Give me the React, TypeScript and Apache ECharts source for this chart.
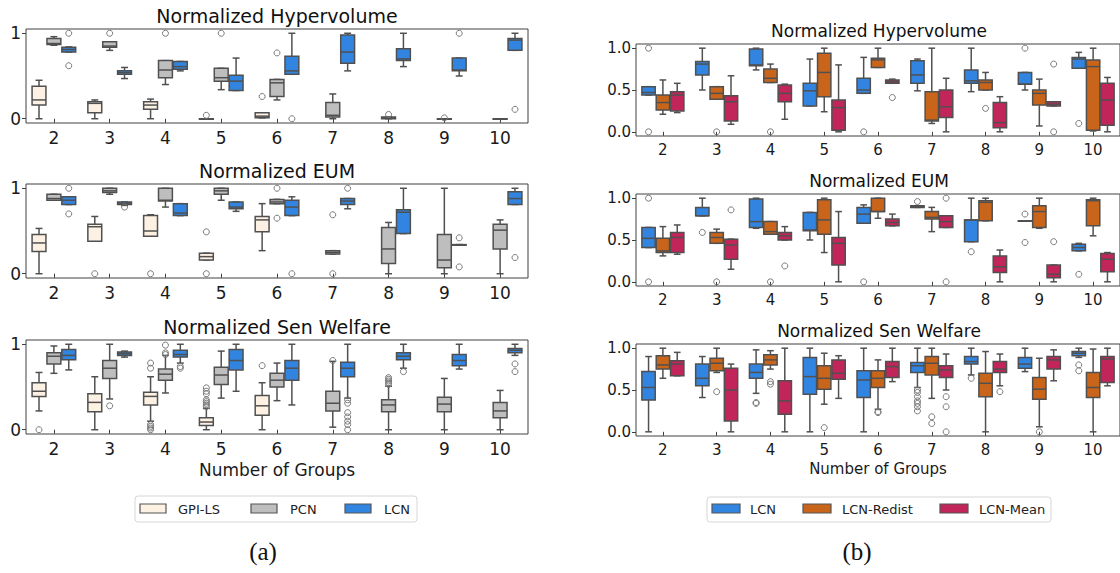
import React, { useEffect, useRef } from 'react';
import * as echarts from 'echarts';

// ---------------- data ----------------
const categories = ['2', '3', '4', '5', '6', '7', '8', '9', '10'];
const yTicksLeft = [0, 1];
const yTicksRight = [0, 0.5, 1];
const leftMethods = ['GPI-LS', 'PCN', 'LCN'];
const rightMethods = ['LCN', 'LCN-Redist', 'LCN-Mean'];
const titles = ['Normalized Hypervolume', 'Normalized EUM', 'Normalized Sen Welfare'];
const xTitle = 'Number of Groups';
const captions = ['(a)', '(b)'];

// box stats: [low whisker, q1, median, q3, high whisker] per category (null = none)
// ---- (a) Hypervolume
const hvGpi = [[0, 0.16, 0.22, 0.38, 0.45], [0, 0.07, 0.18, 0.2, 0.22], [0, 0.11, 0.16, 0.2, 0.23], [0, 0, 0, 0, 0], [0.01, 0.01, 0.03, 0.07, 0.07], null, null, null, null];
const hvGpiOut = [[3, 0.04], [4, 0.26]];
const hvPcn = [[0.86, 0.87, 0.88, 0.94, 0.96], [0.8, 0.835, 0.85, 0.9, 0.9], [0.4, 0.48, 0.57, 0.68, 0.68], [0.34, 0.44, 0.48, 0.59, 0.59], [0.22, 0.26, 0.42, 0.46, 0.46], [0, 0.02, 0.04, 0.19, 0.29], [0, 0, 0.01, 0.02, 0.02], [0, 0, 0, 0, 0], [0, 0, 0, 0, 0]];
const hvPcnOut = [[1, 1.0], [2, 1.0], [3, 1.0], [4, 0.77], [6, 0.05], [7, 0.01]];
const hvLcn = [[0.78, 0.78, 0.81, 0.835, 0.84], [0.47, 0.52, 0.54, 0.56, 0.6], [0.56, 0.58, 0.61, 0.67, 0.67], [0.33, 0.33, 0.44, 0.51, 0.71], [0.52, 0.52, 0.56, 0.73, 1.0], [0.56, 0.65, 0.78, 0.98, 1.0], [0.61, 0.68, 0.7, 0.82, 1.0], [0.5, 0.56, 0.57, 0.71, 0.71], [0.8, 0.8, 0.92, 0.94, 1.0]];
const hvLcnOut = [[0, 1.0], [0, 0.62], [4, 0.0], [7, 1.0], [8, 0.11]];
// ---- (a) EUM
const eumGpi = [[0, 0.26, 0.36, 0.46, 0.53], [0.38, 0.38, 0.55, 0.58, 0.67], [0.44, 0.44, 0.5, 0.68, 0.69], [0.16, 0.16, 0.2, 0.24, 0.24], [0.27, 0.49, 0.63, 0.67, 0.82], null, null, null, null];
const eumGpiOut = [[1, 0], [2, 0], [3, 0.49], [3, 0]];
const eumPcn = [[0.86, 0.86, 0.88, 0.93, 0.93], [0.93, 0.95, 0.97, 1.0, 1.0], [0.78, 0.85, 0.86, 1.0, 1.0], [0.86, 0.93, 0.97, 1.0, 1.0], [0.82, 0.82, 0.84, 0.87, 0.87], [0.23, 0.23, 0.25, 0.27, 0.27], [0, 0.12, 0.29, 0.54, 0.6], [0, 0.07, 0.16, 0.46, 1.0], [0, 0.29, 0.51, 0.58, 0.63]];
const eumPcnOut = [[4, 1.0], [4, 0.65], [5, 0.69], [5, 0]];
const eumLcn = [[0.81, 0.81, 0.86, 0.9, 0.9], [0.8, 0.81, 0.82, 0.84, 0.84], [0.68, 0.68, 0.71, 0.82, 0.82], [0.73, 0.76, 0.78, 0.84, 0.84], [0.68, 0.68, 0.78, 0.86, 0.9], [0.76, 0.81, 0.85, 0.88, 0.88], [0.47, 0.47, 0.72, 0.75, 1.0], [0.34, 0.34, 0.34, 0.34, 0.34], [0.81, 0.81, 0.88, 0.96, 1.0]];
const eumLcnOut = [[0, 1.0], [0, 0.7], [1, 0.78], [4, 0], [5, 1.0], [7, 0.42], [7, 0.08], [8, 0.19]];
// ---- (a) Sen Welfare
const senGpi = [[0.22, 0.39, 0.45, 0.55, 0.67], [0, 0.21, 0.32, 0.42, 0.62], [0.1, 0.29, 0.39, 0.44, 0.62], [0, 0.05, 0.09, 0.14, 0.25], [0, 0.17, 0.28, 0.4, 0.55], null, null, null, null];
const senGpiOut = [[0, 0], [2, 0.78], [2, 0.72], [2, 0.06], [2, 0.04], [2, 0.02], [2, 0.0], [3, 0.27], [3, 0.29], [3, 0.31], [3, 0.33], [3, 0.35], [3, 0.42], [3, 0.45], [3, 0.49], [4, 0.75]];
const senPcn = [[0.66, 0.77, 0.86, 0.9, 0.98], [0.36, 0.6, 0.72, 0.81, 1.0], [0.43, 0.58, 0.65, 0.71, 0.87], [0.37, 0.53, 0.64, 0.73, 0.92], [0.34, 0.5, 0.58, 0.66, 0.78], [0.03, 0.22, 0.31, 0.45, 0.8], [0, 0.21, 0.29, 0.35, 0.51], [0, 0.21, 0.3, 0.38, 0.6], [0, 0.14, 0.22, 0.32, 0.46]];
const senPcnOut = [[1, 0.28], [2, 0.88], [2, 0.9], [2, 0.99], [5, 0.81], [6, 0.53], [6, 0.55], [6, 0.57], [6, 0.59], [6, 0.61]];
const senLcn = [[0.7, 0.82, 0.87, 0.94, 1.0], [0.85, 0.87, 0.89, 0.91, 0.92], [0.78, 0.85, 0.88, 0.93, 1.0], [0.45, 0.7, 0.81, 0.94, 1.0], [0.29, 0.58, 0.72, 0.81, 1.0], [0.37, 0.62, 0.72, 0.79, 1.0], [0.72, 0.82, 0.86, 0.9, 1.0], [0.71, 0.75, 0.81, 0.88, 1.0], [0.87, 0.9, 0.93, 0.95, 1.0]];
const senLcnOut = [[2, 0.74], [2, 0.72], [5, 0.35], [5, 0.31], [5, 0.2], [5, 0.15], [5, 0.1], [5, 0.06], [5, 0.0], [6, 0.68], [8, 0.77], [8, 0.68]];
// ---- (b) Hypervolume
const rhvLcn = [[0.44, 0.44, 0.47, 0.54, 0.54], [0.5, 0.68, 0.81, 0.84, 1.0], [0.74, 0.79, 0.8, 0.99, 1.0], [0.31, 0.31, 0.49, 0.58, 0.87], [0.46, 0.46, 0.5, 0.64, 0.89], [0.49, 0.58, 0.68, 0.85, 0.87], [0.48, 0.58, 0.61, 0.74, 1.0], [0.5, 0.57, 0.57, 0.71, 0.71], [0.76, 0.76, 0.87, 0.89, 0.95]];
const rhvLcnOut = [[0, 1.0], [0, 0.0], [4, 0.0], [7, 1.0], [8, 0.1]];
const rhvRed = [[0.21, 0.26, 0.35, 0.44, 0.62], [0.39, 0.39, 0.46, 0.54, 0.54], [0.59, 0.59, 0.64, 0.75, 0.81], [0.24, 0.42, 0.71, 0.94, 1.0], [0.77, 0.77, 0.86, 0.88, 1.0], [0.1, 0.13, 0.14, 0.48, 1.0], [0.5, 0.5, 0.59, 0.62, 0.71], [0.07, 0.32, 0.46, 0.5, 0.63], [0.01, 0.02, 0.78, 0.86, 1.0]];
const rhvRedOut = [[1, 0], [2, 0], [6, 0.28]];
const rhvMean = [[0.23, 0.25, 0.44, 0.48, 0.58], [0.09, 0.13, 0.36, 0.43, 0.67], [0.15, 0.36, 0.46, 0.56, 0.57], [0, 0.02, 0.29, 0.38, 0.8], [0.58, 0.58, 0.6, 0.62, 0.63], [0, 0.17, 0.3, 0.5, 0.64], [0, 0.05, 0.11, 0.35, 0.42], [0.31, 0.31, 0.33, 0.36, 0.36], [0, 0.08, 0.38, 0.58, 0.65]];
const rhvMeanOut = [[4, 0.41], [7, 0.81], [7, 0.0]];
// ---- (b) EUM
const reumLcn = [[0.41, 0.41, 0.52, 0.65, 0.65], [0.79, 0.79, 0.79, 0.89, 1.0], [0.64, 0.65, 0.72, 0.99, 1.0], [0.5, 0.61, 0.62, 0.83, 0.83], [0.7, 0.7, 0.81, 0.89, 0.92], [0.89, 0.89, 0.9, 0.91, 0.91], [0.48, 0.48, 0.74, 0.74, 1.0], [0.73, 0.73, 0.73, 0.73, 0.73], [0.37, 0.37, 0.41, 0.45, 0.46]];
const reumLcnOut = [[0, 1.0], [0, 0], [1, 0.59], [4, 0], [5, 0.96], [6, 0.36], [7, 0.81], [7, 0.47], [8, 0.09]];
const reumRed = [[0.31, 0.35, 0.37, 0.52, 0.66], [0.46, 0.46, 0.53, 0.59, 0.63], [0.57, 0.57, 0.6, 0.72, 0.72], [0.35, 0.57, 0.74, 0.98, 1.0], [0.76, 0.84, 0.84, 1.0, 1.0], [0.6, 0.75, 0.77, 0.84, 0.89], [0.73, 0.73, 0.95, 0.97, 1.0], [0.64, 0.65, 0.84, 0.91, 1.0], [0.55, 0.67, 0.97, 0.98, 1.0]];
const reumRedOut = [[1, 0], [2, 0]];
const reumMean = [[0.33, 0.35, 0.53, 0.59, 0.68], [0.15, 0.27, 0.44, 0.51, 0.51], [0.5, 0.5, 0.55, 0.59, 0.66], [0, 0.2, 0.46, 0.53, 0.84], [0.67, 0.67, 0.71, 0.75, 0.81], [0.65, 0.65, 0.72, 0.79, 0.79], [0, 0.11, 0.18, 0.31, 0.38], [0, 0.05, 0.09, 0.2, 0.2], [0, 0.12, 0.27, 0.34, 0.35]];
const reumMeanOut = [[1, 0.86], [2, 0.19], [5, 1.0], [5, 0], [7, 0.48]];
// ---- (b) Sen Welfare
const rsenLcn = [[0, 0.38, 0.53, 0.72, 0.9], [0.41, 0.55, 0.64, 0.81, 0.9], [0.46, 0.64, 0.71, 0.81, 0.98], [0, 0.45, 0.66, 0.89, 1.0], [0, 0.41, 0.62, 0.73, 1.0], [0.53, 0.71, 0.79, 0.83, 1.0], [0.68, 0.81, 0.84, 0.9, 1.0], [0.72, 0.76, 0.81, 0.89, 1.0], [0.89, 0.91, 0.94, 0.96, 1.0]];
const rsenLcnOut = [[2, 0.35], [2, 0.34], [5, 0.5], [5, 0.47], [5, 0.42], [5, 0.37], [5, 0.34], [5, 0.3], [5, 0.25], [6, 0.64], [8, 0.8], [8, 0.73]];
const rsenRed = [[0.64, 0.75, 0.8, 0.91, 1.0], [0.71, 0.73, 0.82, 0.88, 1.0], [0.75, 0.8, 0.86, 0.92, 0.97], [0.33, 0.51, 0.64, 0.79, 0.94], [0.27, 0.53, 0.64, 0.73, 0.86], [0.4, 0.68, 0.82, 0.9, 1.0], [0, 0.42, 0.58, 0.7, 0.96], [0.06, 0.39, 0.51, 0.65, 0.88], [0, 0.41, 0.53, 0.71, 0.99]];
const rsenRedOut = [[1, 0.48], [2, 0.6], [2, 0.57], [3, 0.05], [4, 0.23], [4, 0.24], [5, 0.18], [5, 0.1], [7, 0.0]];
const rsenMean = [[0.67, 0.67, 0.81, 0.85, 0.95], [0, 0.13, 0.5, 0.76, 0.81], [0, 0.21, 0.37, 0.61, 1.0], [0.4, 0.63, 0.7, 0.86, 0.91], [0.6, 0.65, 0.78, 0.84, 1.0], [0.5, 0.65, 0.74, 0.79, 0.93], [0.55, 0.71, 0.75, 0.84, 0.93], [0.61, 0.75, 0.86, 0.9, 0.98], [0.55, 0.59, 0.87, 0.9, 1.0]];
const rsenMeanOut = [[5, 0.42], [5, 0.3], [5, 0.0], [6, 0.48]];

// ---------------- styling ----------------
const FONT = 'DejaVu Sans';
const LINE = '#505050';
const FLIER = '#7a7a7a';
const leftColors = ['#fdf1e4', '#bebebe', '#3185e0'];
const rightColors = ['#3185e0', '#c8651b', '#c1255a'];

type Panel = {
  side: 'L' | 'R';
  row: number;
  boxes: (number[] | null)[][];
  outs: number[][][];
};

const panels: Panel[] = [
  { side: 'L', row: 0, boxes: [hvGpi, hvPcn, hvLcn], outs: [hvGpiOut, hvPcnOut, hvLcnOut] },
  { side: 'L', row: 1, boxes: [eumGpi, eumPcn, eumLcn], outs: [eumGpiOut, eumPcnOut, eumLcnOut] },
  { side: 'L', row: 2, boxes: [senGpi, senPcn, senLcn], outs: [senGpiOut, senPcnOut, senLcnOut] },
  { side: 'R', row: 0, boxes: [rhvLcn, rhvRed, rhvMean], outs: [rhvLcnOut, rhvRedOut, rhvMeanOut] },
  { side: 'R', row: 1, boxes: [reumLcn, reumRed, reumMean], outs: [reumLcnOut, reumRedOut, reumMeanOut] },
  { side: 'R', row: 2, boxes: [rsenLcn, rsenRed, rsenMean], outs: [rsenLcnOut, rsenRedOut, rsenMeanOut] },
];

const layout = {
  L: { left: 26, width: 502, tops: [29, 184, 340], height: 94, tick: 17, title: 19, xname: 17, center: 277, titleY: [16, 171, 327] },
  R: { left: 636, width: 486, tops: [44, 194, 344], height: 92, tick: 15, title: 17, xname: 15, center: 879, titleY: [31, 181, 331] },
};

function boxRenderer(slot: number, color: string) {
  return (params: any, api: any) => {
    const c = api.value(0);
    const bw = api.size([1, 0])[0];
    const w = (bw * 0.8) / 3;
    const cx = api.coord([c, 0])[0] + (slot - 1) * w;
    const y = (i: number) => api.coord([c, api.value(i)])[1];
    const lo = y(1), q1 = y(2), md = y(3), q3 = y(4), hi = y(5);
    const half = (w - 1) / 2;
    const cap = half / 2;
    const st = { stroke: LINE, lineWidth: 1.5, fill: null };
    return {
      type: 'group',
      children: [
        { type: 'line', shape: { x1: cx, y1: q3, x2: cx, y2: hi }, style: st },
        { type: 'line', shape: { x1: cx, y1: q1, x2: cx, y2: lo }, style: st },
        { type: 'line', shape: { x1: cx - cap, y1: hi, x2: cx + cap, y2: hi }, style: st },
        { type: 'line', shape: { x1: cx - cap, y1: lo, x2: cx + cap, y2: lo }, style: st },
        { type: 'rect', shape: { x: cx - half, y: q3, width: half * 2, height: Math.max(q1 - q3, 0.5) }, style: { fill: color, stroke: LINE, lineWidth: 1.5 } },
        { type: 'line', shape: { x1: cx - half, y1: md, x2: cx + half, y2: md }, style: st },
      ],
    };
  };
}

function flierRenderer(slot: number) {
  return (params: any, api: any) => {
    const c = api.value(0);
    const bw = api.size([1, 0])[0];
    const w = (bw * 0.8) / 3;
    const p = api.coord([c, api.value(1)]);
    return {
      type: 'circle',
      shape: { cx: p[0] + (slot - 1) * w, cy: p[1], r: 3 },
      style: { fill: 'none', stroke: FLIER, lineWidth: 1 },
    };
  };
}

function buildOption() {
  const grid: any[] = [];
  const xAxis: any[] = [];
  const yAxis: any[] = [];
  const series: any[] = [];
  const graphic: any[] = [];

  panels.forEach((p, gi) => {
    const L = layout[p.side];
    grid.push({ left: L.left, top: L.tops[p.row], width: L.width, height: L.height, show: true, borderColor: '#404040', borderWidth: 1, backgroundColor: '#fff' });
    xAxis.push({
      type: 'category', gridIndex: gi, data: categories, boundaryGap: true,
      axisLine: { show: false },
      axisTick: { show: true, alignWithLabel: true, length: 4, lineStyle: { color: '#404040' } },
      axisLabel: { fontSize: L.tick, fontFamily: FONT, color: '#1a1a1a', margin: 6 },
      splitLine: { show: false },
      name: p.row === 2 ? xTitle : '', nameLocation: 'middle', nameGap: p.side === 'L' ? 27 : 25,
      nameTextStyle: { fontSize: L.xname, fontFamily: FONT, color: '#1a1a1a' },
    });
    const ticks = p.side === 'L' ? yTicksLeft : yTicksRight;
    yAxis.push({
      type: 'value', gridIndex: gi, min: -0.05, max: 1.05,
      axisLine: { show: false },
      axisTick: { show: true, length: 4, customValues: ticks, lineStyle: { color: '#404040' } },
      axisLabel: {
        customValues: ticks, fontSize: L.tick, fontFamily: FONT, color: '#1a1a1a', margin: 5,
        formatter: (v: number) => (p.side === 'L' ? String(Math.round(v)) : v.toFixed(1)),
      },
      splitLine: { show: false },
    });
    const colors = p.side === 'L' ? leftColors : rightColors;
    const names = p.side === 'L' ? leftMethods : rightMethods;
    p.boxes.forEach((arr, m) => {
      const data = arr.map((b, i) => (b ? [i, ...b] : null)).filter(Boolean);
      series.push({
        type: 'custom', name: names[m], xAxisIndex: gi, yAxisIndex: gi,
        renderItem: boxRenderer(m, colors[m]), data, clip: false,
        encode: { x: 0, y: [1, 2, 3, 4, 5] }, z: 2,
      });
    });
    p.outs.forEach((arr, m) => {
      series.push({
        type: 'custom', name: names[m] + ' outliers', xAxisIndex: gi, yAxisIndex: gi,
        renderItem: flierRenderer(m), data: arr, clip: false,
        encode: { x: 0, y: 1 }, z: 3,
      });
    });
    graphic.push({
      type: 'text', x: L.center, y: L.titleY[p.row],
      style: { text: titles[p.row], textAlign: 'center', textVerticalAlign: 'middle', fontSize: L.title, fontFamily: FONT, fill: '#111' },
    });
  });

  // legends
  const legends = [
    { box: [135, 496, 282, 26], items: [[140, 178], [251, 290], [345, 384]], names: leftMethods, colors: leftColors, hw: 26 },
    { box: [707, 497, 344, 25], items: [[712, 750], [803, 842], [940, 979]], names: rightMethods, colors: rightColors, hw: 28 },
  ];
  legends.forEach((lg) => {
    graphic.push({ type: 'rect', shape: { x: lg.box[0], y: lg.box[1], width: lg.box[2], height: lg.box[3], r: 3 }, style: { fill: '#fff', stroke: '#d6d6d6', lineWidth: 1 } });
    lg.items.forEach((it, k) => {
      graphic.push({ type: 'rect', shape: { x: it[0], y: 504, width: lg.hw, height: 9 }, style: { fill: lg.colors[k], stroke: '#555', lineWidth: 1.2 } });
      graphic.push({ type: 'text', x: it[1], y: 509, style: { text: lg.names[k], textAlign: 'left', textVerticalAlign: 'middle', fontSize: 13, fontFamily: FONT, fill: '#222' } });
    });
  });
  // captions
  graphic.push({ type: 'text', x: 263, y: 551, style: { text: captions[0], textAlign: 'center', textVerticalAlign: 'middle', fontSize: 25, fontFamily: 'Liberation Serif', fill: '#111' } });
  graphic.push({ type: 'text', x: 857, y: 551, style: { text: captions[1], textAlign: 'center', textVerticalAlign: 'middle', fontSize: 25, fontFamily: 'Liberation Serif', fill: '#111' } });

  return { animation: false, backgroundColor: '#fff', grid, xAxis, yAxis, series, graphic };
}

export default function App() {
  const ref = useRef<HTMLDivElement>(null);
  useEffect(() => {
    if (!ref.current) return;
    const chart = echarts.init(ref.current, undefined, { renderer: 'svg' });
    chart.setOption(buildOption() as any);
    return () => chart.dispose();
  }, []);
  return <div ref={ref} style={{ position: 'fixed', left: 0, top: 0, width: 1120, height: 573, background: '#fff' }} />;
}
